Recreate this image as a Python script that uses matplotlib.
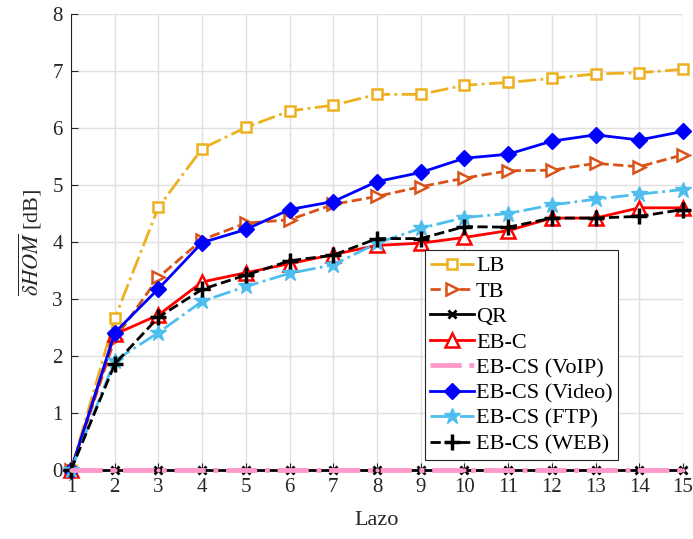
import matplotlib
matplotlib.use("Agg")
import matplotlib.pyplot as plt
import numpy as np

plt.rcParams['font.family'] = ['Liberation Serif', 'DejaVu Serif']
plt.rcParams['mathtext.fontset'] = 'stix'

lazo = list(range(1, 16))
lb = [0, 2.66, 4.61, 5.64, 6.01, 6.30, 6.40, 6.59, 6.59, 6.75, 6.80, 6.87, 6.95, 6.97, 7.03]
tb = [0, 2.30, 3.38, 4.04, 4.33, 4.39, 4.66, 4.80, 4.97, 5.12, 5.25, 5.26, 5.38, 5.32, 5.53]
qr = [0] * 15
ebc = [0, 2.38, 2.72, 3.30, 3.46, 3.62, 3.78, 3.94, 3.98, 4.08, 4.20, 4.42, 4.42, 4.60, 4.60]
voip = [0] * 15
video = [0, 2.41, 3.18, 3.99, 4.22, 4.57, 4.71, 5.06, 5.22, 5.47, 5.54, 5.77, 5.88, 5.79, 5.94]
ftp = [0, 1.92, 2.41, 2.96, 3.22, 3.45, 3.60, 3.98, 4.24, 4.43, 4.50, 4.65, 4.75, 4.84, 4.92]
web = [0, 1.86, 2.68, 3.17, 3.42, 3.67, 3.77, 4.06, 4.06, 4.27, 4.26, 4.42, 4.42, 4.45, 4.57]

fig = plt.figure(figsize=(6.93, 5.39), dpi=100)
ax = fig.add_axes([0.1025, 0.128, 0.883, 0.846])

lw = 2.0
kw = dict(clip_on=False)
ax.plot(lazo, lb, color='#EDB120', ls='-.', marker='s', mfc='white', mec='#EDB120', ms=7.5, mew=1.8, lw=lw, label='LB', zorder=3, **kw)
ax.plot(lazo, tb, color='#D95319', ls='--', marker='>', mfc='white', mec='#D95319', ms=9, mew=1.8, lw=lw, label='TB', zorder=3, **kw)
ax.plot(lazo, qr, color='black', ls='-', marker='x', ms=6, mew=2, lw=lw, label='QR', zorder=3, **kw)
ax.plot(lazo, ebc, color='red', ls='-', marker='^', mfc='white', mec='red', ms=10, mew=1.8, lw=lw, label='EB-C', zorder=3, **kw)
ax.plot(lazo, voip, color='#FF99CC', ls='-.', marker='.', ms=4, lw=3.5, label='EB-CS (VoIP)', zorder=3.5, **kw)
ax.plot(lazo, video, color='blue', ls='-', marker='D', mfc='blue', mec='blue', ms=8.5, lw=lw, label='EB-CS (Video)', zorder=3, **kw)
ax.plot(lazo, ftp, color='#4DBEEE', ls='-.', marker='*', mfc='#4DBEEE', mec='#4DBEEE', ms=12, lw=lw, label='EB-CS (FTP)', zorder=3, **kw)
ax.plot(lazo, web, color='black', ls='--', marker='+', ms=11, mew=2.5, lw=lw, label='EB-CS (WEB)', zorder=3, **kw)

ax.set_xlim(1, 15)
ax.set_ylim(0, 8)
ax.set_xticks(lazo)
ax.set_yticks(range(0, 9))
ax.grid(True, color='#E0E0E0', lw=1)
ax.set_axisbelow(True)
for s in ['top', 'right']:
    ax.spines[s].set_visible(False)
for s in ['left', 'bottom']:
    ax.spines[s].set_color('#262626')
    ax.spines[s].set_zorder(2)
ax.tick_params(direction='in', labelsize=15, colors='#262626', length=5, pad=6)
ax.set_xlabel('Lazo', fontsize=16, color='#262626', labelpad=10)
ax.set_ylabel(r'$\overline{\delta HOM}$ [dB]', fontsize=16, color='#262626', labelpad=6)

leg = ax.legend(loc='lower right', bbox_to_anchor=(0.894, 0.022), fontsize=16,
                handlelength=1.95, handletextpad=0.1, labelspacing=0.22,
                borderpad=0.25, borderaxespad=0, fancybox=False, edgecolor='#262626', framealpha=1)
leg.get_frame().set_linewidth(0.8)
leg.set_zorder(10)

fig.savefig('out.png', dpi=100)
